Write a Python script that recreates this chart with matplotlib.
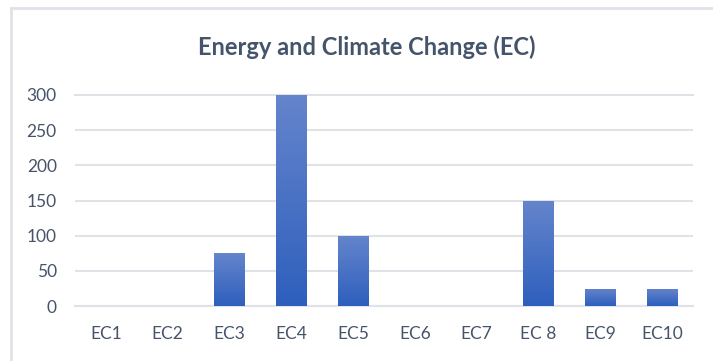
import numpy as np
import matplotlib.pyplot as plt
from matplotlib.colors import LinearSegmentedColormap
from matplotlib.lines import Line2D

categories = ['EC1', 'EC2', 'EC3', 'EC4', 'EC5', 'EC6', 'EC7', 'EC 8', 'EC9', 'EC10']
values = [0, 0, 75, 300, 100, 0, 0, 150, 25, 25]
yticks = [0, 50, 100, 150, 200, 250, 300]

plt.rcParams['font.family'] = ['Lato', 'DejaVu Sans']

fig = plt.figure(figsize=(7.13, 3.61), dpi=100)
ax = fig.add_axes([0.105, 0.152, 0.867, 0.585])

x = np.arange(len(categories))
bars = ax.bar(x, values, width=0.5, color='none', edgecolor='none')

# gradient fill, light on top, dark at bottom
cmap = LinearSegmentedColormap.from_list('grad', ['#2e5fbd', '#6585cc'])
grad = np.linspace(0, 1, 256).reshape(-1, 1)
for b in bars:
    h = b.get_height()
    if h <= 0:
        continue
    x0 = b.get_x()
    im = ax.imshow(grad, cmap=cmap, origin='lower', aspect='auto',
                   extent=[x0, x0 + b.get_width(), 0, h], zorder=3)
    im.set_clip_path(b)

ax.set_xlim(-0.5, len(categories) - 0.5)
ax.set_ylim(0, 300)
ax.set_yticks(yticks)
ax.set_xticks(x)
ax.set_xticklabels(categories)
ax.grid(axis='y', color='#dfe3e8', linewidth=1.5, zorder=0)
ax.set_axisbelow(True)
for s in ['top', 'right', 'left']:
    ax.spines[s].set_visible(False)
ax.spines['bottom'].set_color('#dfe3e8')
ax.spines['bottom'].set_linewidth(1.5)
ax.tick_params(length=0, labelsize=12.5, colors='#46546a', pad=14)
ax.tick_params(axis='y', pad=13)
for t in ax.get_yticklabels():
    t.set_clip_on(False)
ax.get_ygridlines()[-1].set_clip_on(False)

fig.text(0.515, 0.868, 'Energy and Climate Change (EC)', ha='center', va='center',
         fontsize=17, fontweight='bold', color='#44546a')

# chart frame
fig.add_artist(Line2D([0.0155, 1.0], [0.978, 0.978], color='#dfe3e8', linewidth=2))
fig.add_artist(Line2D([0.0155, 0.0155], [0.0, 0.978], color='#dfe3e8', linewidth=2))

fig.savefig('out.png', dpi=100)
